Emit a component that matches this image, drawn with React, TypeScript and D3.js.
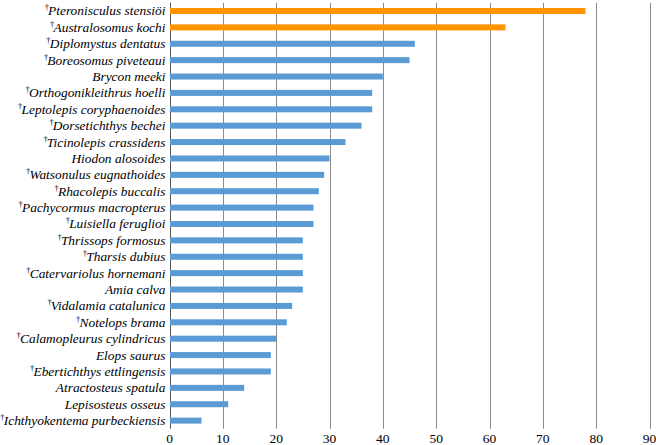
import React from "react";
import * as d3 from "d3";

const species: string[] = [
  "Pteronisculus stensiöi",
  "Australosomus kochi",
  "Diplomystus dentatus",
  "Boreosomus piveteaui",
  "Brycon meeki",
  "Orthogonikleithrus hoelli",
  "Leptolepis coryphaenoides",
  "Dorsetichthys bechei",
  "Ticinolepis crassidens",
  "Hiodon alosoides",
  "Watsonulus eugnathoides",
  "Rhacolepis buccalis",
  "Pachycormus macropterus",
  "Luisiella feruglioi",
  "Thrissops formosus",
  "Tharsis dubius",
  "Catervariolus hornemani",
  "Amia calva",
  "Vidalamia catalunica",
  "Notelops brama",
  "Calamopleurus cylindricus",
  "Elops saurus",
  "Ebertichthys ettlingensis",
  "Atractosteus spatula",
  "Lepisosteus osseus",
  "Ichthyokentema purbeckiensis",
];
const extinct: boolean[] = [
  true, true, true, true, false, true, true, true, true, false,
  true, true, true, true, true, true, true, false, true, true,
  true, false, true, false, false, true,
];
const highlighted: boolean[] = [
  true, true, false, false, false, false, false, false, false, false,
  false, false, false, false, false, false, false, false, false, false,
  false, false, false, false, false, false,
];
const values: number[] = [
  78, 63, 46, 45, 40, 38, 38, 36, 33, 30, 29, 28, 27, 27, 25, 25, 25, 25, 23, 22,
  20, 19, 19, 14, 11, 6,
];
const xTicks: number[] = [0, 10, 20, 30, 40, 50, 60, 70, 80, 90];

const serif = "Liberation Serif";

export default function App() {
  const width = 656;
  const height = 445;
  const left = 169.5;
  const right = 649.5;
  const top = 2.8;
  const bottom = 428.8;

  const x = d3.scaleLinear().domain([0, 90]).range([left, right]);
  const y = d3
    .scaleBand<string>()
    .domain(species)
    .range([top, bottom])
    .paddingInner(0.63)
    .paddingOuter(0.315);

  const barH = 6;

  return (
    <svg
      width={width}
      height={height}
      style={{ position: "absolute", left: 0, top: 0, background: "#fff" }}
    >
      {xTicks.map((t) => (
        <line
          key={"g" + t}
          x1={Math.round(x(t)) + 0.5}
          x2={Math.round(x(t)) + 0.5}
          y1={top}
          y2={bottom}
          stroke={t === 0 ? "#555" : "#8c8c8c"}
          strokeWidth={1}
        />
      ))}
      {species.map((s, i) => {
        const cy = (y(s) as number) + y.bandwidth() / 2;
        return (
          <rect
            key={"b" + s}
            x={x(0) + 0.5}
            y={cy - barH / 2}
            width={x(values[i]) - x(0) - 0.5}
            height={barH}
            fill={highlighted[i] ? "#ff9300" : "#5b9bd5"}
          />
        );
      })}
      {species.map((s, i) => {
        const cy = (y(s) as number) + y.bandwidth() / 2;
        return (
          <text
            key={"l" + s}
            x={165.5}
            y={cy + 4.5}
            textAnchor="end"
            fontFamily={serif}
            fontStyle="italic"
            fontSize={13.4}
            fill="#000"
          >
            {extinct[i] ? (
              <tspan dy={-5} fontSize={8.5} fontStyle="normal">
                †
              </tspan>
            ) : null}
            <tspan dy={extinct[i] ? 5 : 0} dx={extinct[i] ? -0.8 : 0}>
              {s}
            </tspan>
          </text>
        );
      })}
      {xTicks.map((t) => (
        <text
          key={"t" + t}
          x={x(t)}
          y={443}
          textAnchor="middle"
          fontFamily={serif}
          fontSize={13.5}
          fill="#000"
        >
          {t}
        </text>
      ))}
    </svg>
  );
}
